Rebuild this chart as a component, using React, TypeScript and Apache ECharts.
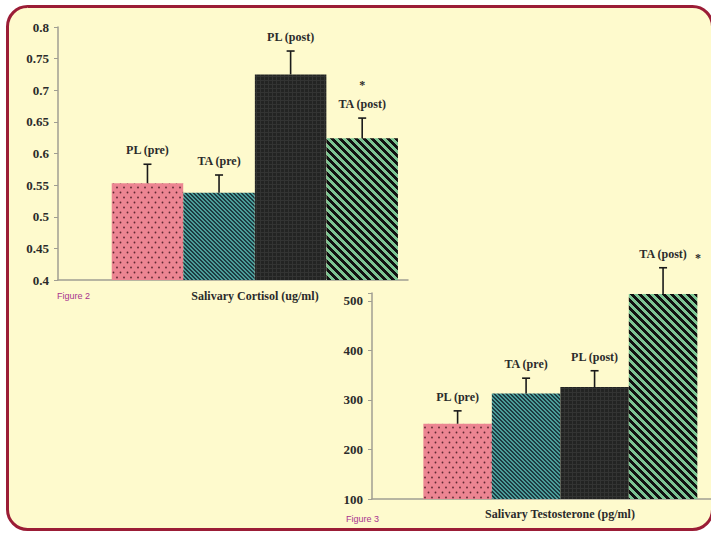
import React, { useEffect, useRef } from 'react';
import * as echarts from 'echarts';

const groups = ['PL (pre)', 'TA (pre)', 'PL (post)', 'TA (post)'];
const groupPositions = [1, 2, 3, 4];

const cortisolMeans = [0.553, 0.538, 0.725, 0.624];
const cortisolErrors = [0.030, 0.028, 0.037, 0.032];
const cortisolMarks = ['', '', '', '*'];
const cortisolTitle = 'Salivary Cortisol (ug/ml)';
const cortisolFigure = 'Figure 2';

const testosteroneMeans = [252, 313, 326, 514];
const testosteroneErrors = [26, 31, 33, 53];
const testosteroneMarks = ['', '', '', '*'];
const testosteroneTitle = 'Salivary Testosterone (pg/ml)';
const testosteroneFigure = 'Figure 3';

const SERIF = '"Liberation Serif", "Times New Roman", serif';
const SANS = '"Liberation Sans", Arial, sans-serif';
const TEXT = '#2b2b2b';
const AXIS = '#a09e92';

function tile(w: number, h: number, paint: (ctx: CanvasRenderingContext2D) => void) {
  const c = document.createElement('canvas');
  c.width = w;
  c.height = h;
  const ctx = c.getContext('2d') as CanvasRenderingContext2D;
  paint(ctx);
  return { image: c.toDataURL(), repeat: 'repeat', imageWidth: w, imageHeight: h } as any;
}

function diagonal(p: number, on: number, a: string, b: string) {
  return tile(p, p, (ctx) => {
    for (let x = 0; x < p; x++) {
      for (let y = 0; y < p; y++) {
        ctx.fillStyle = ((x - y + p * 4) % p) < on ? a : b;
        ctx.fillRect(x, y, 1, 1);
      }
    }
  });
}

function makePatterns() {
  const dots = tile(7, 10, (ctx) => {
    ctx.fillStyle = '#ec8592';
    ctx.fillRect(0, 0, 7, 10);
    ctx.fillStyle = '#5e2832';
    ctx.beginPath();
    ctx.arc(1.5, 2.5, 0.9, 0, Math.PI * 2);
    ctx.fill();
    ctx.beginPath();
    ctx.arc(5, 7.5, 0.9, 0, Math.PI * 2);
    ctx.fill();
  });
  const teal = diagonal(4, 2, '#1d3b42', '#4b9d99');
  const dark = tile(4, 4, (ctx) => {
    ctx.fillStyle = '#232423';
    ctx.fillRect(0, 0, 4, 4);
    ctx.fillStyle = '#333433';
    ctx.fillRect(0, 0, 4, 1);
    ctx.fillRect(0, 0, 1, 4);
  });
  const green = diagonal(8, 4, '#111111', '#7dc493');
  return [dots, teal, dark, green];
}

function barSeries(means: number[], patterns: any[], axisIndex: number, width: number) {
  return {
    type: 'bar',
    xAxisIndex: axisIndex,
    yAxisIndex: axisIndex,
    barWidth: width,
    z: 2,
    data: means.map((m, i) => ({ value: [groupPositions[i], m], itemStyle: { color: patterns[i] } })),
  };
}

function errorSeries(means: number[], errs: number[], marks: string[], markSide: 'top' | 'right', axisIndex: number) {
  return {
    type: 'custom',
    xAxisIndex: axisIndex,
    yAxisIndex: axisIndex,
    z: 5,
    clip: false,
    data: means.map((m, i) => [groupPositions[i], m, m + errs[i], i]),
    renderItem: (_params: any, api: any) => {
      const x = api.value(0);
      const m = api.value(1);
      const t = api.value(2);
      const i = api.value(3);
      const p0 = api.coord([x, m]);
      const p1 = api.coord([x, t]);
      const lineStyle = { stroke: '#1a1a1a', lineWidth: 1.6 };
      const labelBottom = p1[1] - 8;
      const children: any[] = [
        { type: 'line', shape: { x1: p0[0], y1: p0[1], x2: p1[0], y2: p1[1] }, style: lineStyle },
        { type: 'line', shape: { x1: p1[0] - 4, y1: p1[1], x2: p1[0] + 4, y2: p1[1] }, style: lineStyle },
        {
          type: 'text',
          x: p1[0],
          y: labelBottom,
          style: {
            text: groups[i],
            align: 'center', textAlign: 'center',
            verticalAlign: 'bottom', textVerticalAlign: 'bottom',
            font: `bold 12px ${SERIF}`,
            fill: TEXT,
          },
        },
      ];
      if (marks[i]) {
        const pos = markSide === 'top'
          ? { x: p1[0], y: labelBottom - 19, align: 'center' }
          : { x: p1[0] + 32, y: labelBottom + 4, align: 'left' };
        children.push({
          type: 'text',
          x: pos.x,
          y: pos.y,
          style: {
            text: marks[i],
            align: pos.align, textAlign: pos.align,
            verticalAlign: 'bottom', textVerticalAlign: 'bottom',
            font: `bold 12px ${SERIF}`,
            fill: TEXT,
          },
        });
      }
      return { type: 'group', children };
    },
  };
}

function valueLabel(axis: number) {
  return {
    color: TEXT,
    fontFamily: SERIF,
    fontWeight: 'bold' as const,
    fontSize: 13,
    margin: 9,
    formatter: (v: number) => (axis === 1 && v % 100 !== 0 ? '' : String(v)),
  };
}

export default function App() {
  const ref = useRef<HTMLDivElement>(null);
  useEffect(() => {
    if (!ref.current) return;
    const chart = echarts.init(ref.current, null, { renderer: 'svg' });
    const patterns = makePatterns();
    const hiddenX = (min: number, max: number, idx: number) => ({
      type: 'value', gridIndex: idx, min, max,
      axisLabel: { show: false }, axisTick: { show: false }, splitLine: { show: false },
      axisLine: { show: true, onZero: false, lineStyle: { color: AXIS, width: 1.5 } },
    });
    const option: any = {
      animation: false,
      backgroundColor: '#ffffff',
      grid: [
        { left: 58, top: 27, width: 350, height: 253 },
        { left: 372, top: 293, width: 339, height: 206 },
      ],
      xAxis: [hiddenX(-0.25, 4.64, 0), hiddenX(-0.25, 4.7, 1)],
      yAxis: [
        {
          type: 'value', gridIndex: 0, min: 0.4, max: 0.8, interval: 0.05,
          axisLabel: valueLabel(0),
          axisTick: { show: true, length: 4, lineStyle: { color: AXIS } },
          axisLine: { show: true, onZero: false, lineStyle: { color: AXIS, width: 1.5 } },
          splitLine: { show: false },
        },
        {
          type: 'value', gridIndex: 1, min: 100, max: 516, interval: 100,
          axisLabel: valueLabel(1),
          axisTick: { show: true, length: 4, lineStyle: { color: AXIS } },
          axisLine: { show: true, onZero: false, lineStyle: { color: AXIS, width: 1.5 } },
          splitLine: { show: false },
        },
      ],
      graphic: [
        {
          type: 'rect', z: -10, silent: true,
          shape: { x: 7.5, y: 6.5, width: 705, height: 523, r: 20 },
          style: { fill: '#fefacd', stroke: '#9b1d36', lineWidth: 3 },
        },
        {
          type: 'text', x: 255, y: 296,
          style: { text: cortisolTitle, align: 'center', textAlign: 'center', verticalAlign: 'middle', textVerticalAlign: 'middle', font: `bold 12px ${SERIF}`, fill: TEXT },
        },
        {
          type: 'text', x: 57, y: 296,
          style: { text: cortisolFigure, align: 'left', textAlign: 'left', verticalAlign: 'middle', textVerticalAlign: 'middle', font: `9px ${SANS}`, fill: '#a8338f' },
        },
        {
          type: 'text', x: 560, y: 514,
          style: { text: testosteroneTitle, align: 'center', textAlign: 'center', verticalAlign: 'middle', textVerticalAlign: 'middle', font: `bold 12px ${SERIF}`, fill: TEXT },
        },
        {
          type: 'text', x: 346, y: 519,
          style: { text: testosteroneFigure, align: 'left', textAlign: 'left', verticalAlign: 'middle', textVerticalAlign: 'middle', font: `9px ${SANS}`, fill: '#a8338f' },
        },
      ],
      series: [
        barSeries(cortisolMeans, patterns, 0, 71.5),
        errorSeries(cortisolMeans, cortisolErrors, cortisolMarks, 'top', 0),
        barSeries(testosteroneMeans, patterns, 1, 68.5),
        errorSeries(testosteroneMeans, testosteroneErrors, testosteroneMarks, 'right', 1),
      ],
    };
    chart.setOption(option);
    return () => chart.dispose();
  }, []);
  return <div ref={ref} style={{ position: 'fixed', left: 0, top: 0, width: 711, height: 533 }} />;
}
